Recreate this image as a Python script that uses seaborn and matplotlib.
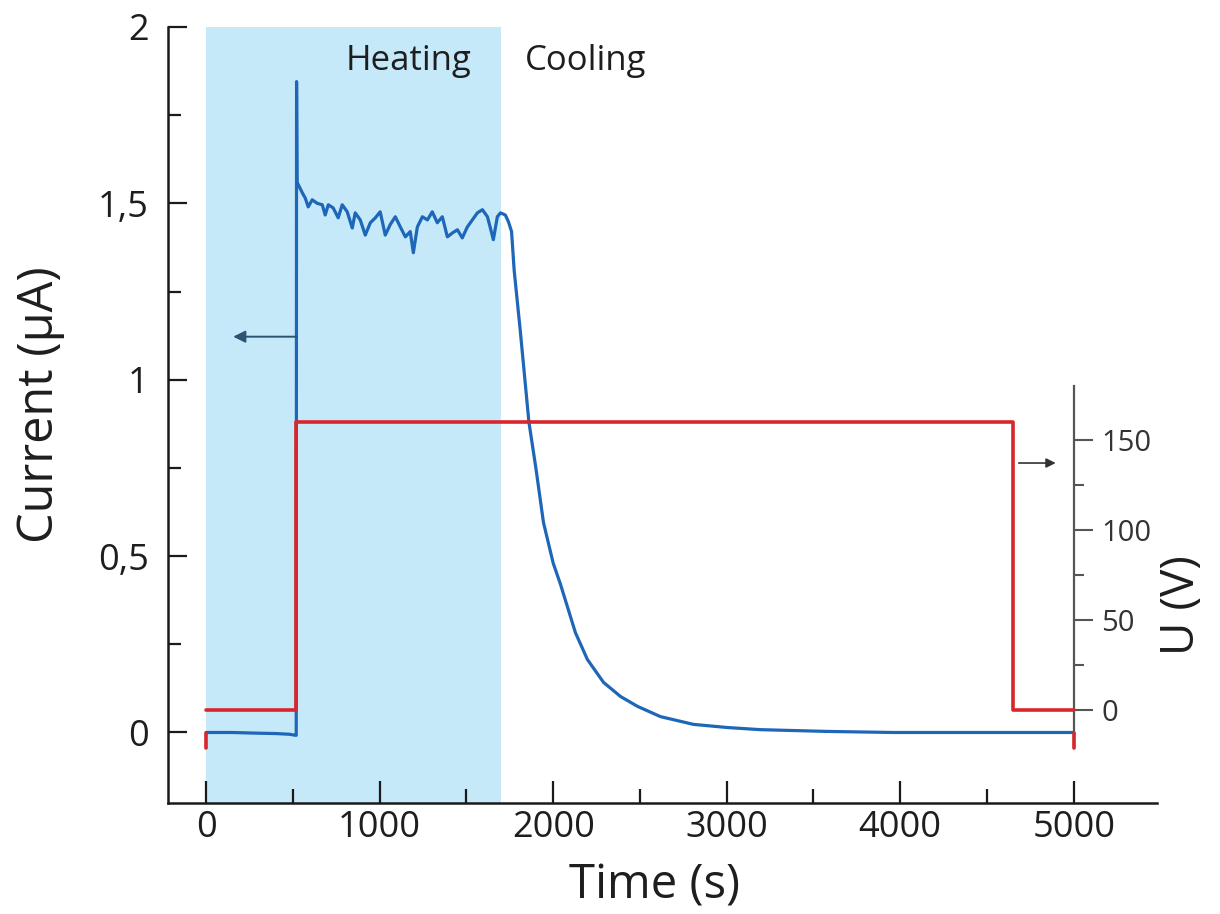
import numpy as np
import pandas as pd
import matplotlib
matplotlib.use("Agg")
import matplotlib.pyplot as plt
from matplotlib.ticker import FixedLocator, FixedFormatter
import seaborn as sns

# ---------------- data ----------------
time_current = [0, 150, 300, 400, 480, 515, 519, 521, 524,
                554, 571, 588, 611, 640, 669, 686, 704, 732, 761,
                784, 813, 842, 859, 888, 917, 946, 975, 1003, 1032,
                1061, 1090, 1119, 1148, 1176, 1194, 1217, 1246, 1275, 1303,
                1332, 1361, 1390, 1419, 1448, 1476, 1505, 1534, 1563, 1592,
                1621, 1638, 1655, 1678, 1696, 1724, 1742, 1760, 1775, 1810,
                1860, 1900, 1944, 2000, 2042, 2128, 2197, 2290, 2388, 2486,
                2618, 2808, 3005, 3195, 3581, 3962, 4348, 5000]
current_uA = [0.0, 0.0, -0.002, -0.003, -0.005, -0.008, -0.008, 1.845, 1.56,
              1.53, 1.515, 1.49, 1.51, 1.50, 1.496, 1.467, 1.496, 1.487, 1.459,
              1.496, 1.476, 1.43, 1.473, 1.453, 1.41, 1.445, 1.459, 1.476, 1.41,
              1.44, 1.462, 1.433, 1.405, 1.42, 1.36, 1.433, 1.462, 1.453, 1.476,
              1.445, 1.462, 1.405, 1.416, 1.425, 1.402, 1.433, 1.453, 1.473, 1.482,
              1.462, 1.43, 1.397, 1.462, 1.473, 1.467, 1.448, 1.42, 1.31, 1.14,
              0.88, 0.75, 0.595, 0.48, 0.42, 0.283, 0.207, 0.142, 0.102, 0.074,
              0.045, 0.023, 0.014, 0.008, 0.003, 0.0, 0.0, 0.0]

time_voltage = [0, 0, 0, 520, 520, 4650, 4650, 5000, 5000, 5000]
voltage_V = [-21, -13, 0, 0, 160, 160, 0, 0, -13, -21]
voltage_segment = [0, 0, 1, 1, 1, 1, 1, 1, 2, 2]

heating_span = [0, 1700]
phase_labels = ["Heating", "Cooling"]
phase_label_times = [1165, 2186]

x_ticks = [0, 1000, 2000, 3000, 4000, 5000]
x_minor = [500, 1500, 2500, 3500, 4500]
y_ticks = [0, 0.5, 1, 1.5, 2]
y_ticklabels = ["0", "0,5", "1", "1,5", "2"]
y_minor = [0.25, 0.75, 1.25, 1.75]
u_ticks = [0, 50, 100, 150]
u_minor = [25, 75, 125]

df_cur = pd.DataFrame({"t": time_current, "I": current_uA})
df_volt = pd.DataFrame({"t": time_voltage, "U": voltage_V, "seg": voltage_segment})

# ---------------- style ----------------
sns.set_style("white")
plt.rcParams["font.family"] = ["Open Sans", "DejaVu Sans"]

BLUE = "#1d66b8"
RED = "#d8262b"
SHADE = "#c6e9fa"
TXT = "#1e1e1e"

fig = plt.figure(figsize=(12.2, 9.14), dpi=100)
ax = fig.add_axes([0.1377, 0.1214, 0.8107, 0.8491])
ax.set_facecolor("none")

ax.axvspan(heating_span[0], heating_span[1], color=SHADE, lw=0, zorder=0)

sns.lineplot(data=df_cur, x="t", y="I", estimator=None, sort=False,
             color=BLUE, lw=2.3, ax=ax, zorder=3)

ax.set_xlim(-220, 5480)
ax.set_ylim(-0.2, 2.0)

ax2 = ax.twinx()
sns.lineplot(data=df_volt, x="t", y="U", units="seg", estimator=None, sort=False,
             color=RED, lw=2.6, ax=ax2, zorder=3)
ax2.set_ylim(-51.7, 379)
ax2.set_xlim(-220, 5480)

# spines
for s in ["top", "right"]:
    ax.spines[s].set_visible(False)
for s in ["top", "left", "bottom"]:
    ax2.spines[s].set_visible(False)
ax.spines["left"].set_color("#1a1a1a")
ax.spines["bottom"].set_color("#1a1a1a")
ax.spines["left"].set_linewidth(1.8)
ax.spines["bottom"].set_linewidth(1.8)
ax2.spines["right"].set_position(("data", 5000))
ax2.spines["right"].set_bounds(-21, 180)
ax2.spines["right"].set_color("#555555")
ax2.spines["right"].set_linewidth(1.6)

# ticks
ax.xaxis.set_major_locator(FixedLocator(x_ticks))
ax.xaxis.set_minor_locator(FixedLocator(x_minor))
ax.yaxis.set_major_locator(FixedLocator(y_ticks))
ax.yaxis.set_major_formatter(FixedFormatter(y_ticklabels))
ax.yaxis.set_minor_locator(FixedLocator(y_minor))
ax.tick_params(axis="x", which="major", direction="in", length=16, width=1.6,
               color="#1a1a1a", labelsize=26, labelcolor=TXT, pad=5, bottom=True)
ax.tick_params(axis="x", which="minor", direction="in", length=10, width=1.6,
               color="#1a1a1a", bottom=True)
ax.tick_params(axis="y", which="major", direction="in", length=14, width=1.6,
               color="#1a1a1a", labelsize=26, labelcolor=TXT, pad=14, left=True)
ax.tick_params(axis="y", which="minor", direction="in", length=9, width=1.6,
               color="#1a1a1a", left=True)

ax2.yaxis.set_major_locator(FixedLocator(u_ticks))
ax2.yaxis.set_minor_locator(FixedLocator(u_minor))
ax2.tick_params(axis="y", which="major", direction="out", length=14, width=1.5,
                color="#555555", labelsize=21, labelcolor="#333333", pad=6, right=True)
ax2.tick_params(axis="y", which="minor", direction="out", length=7, width=1.5,
                color="#555555", right=True)

# labels
ax.set_xlabel("Time (s)", fontsize=34, color=TXT)
ax.xaxis.set_label_coords(0.492, -0.107)
ax.xaxis.label.set_va("center")
ax.set_ylabel("Current (µA)", fontsize=35, color=TXT)
ax.yaxis.set_label_coords(-0.129, 0.513)
ax.yaxis.label.set_va("center")
ax2.set_ylabel("U (V)", fontsize=33, color=TXT, rotation=90)
ax2.yaxis.set_label_coords(1.025, 0.255)
ax2.yaxis.label.set_va("center")
ax2.yaxis.label.set_ha("center")

# phase annotations
for lab, tx in zip(phase_labels, phase_label_times):
    ax.text(tx, 1.878, lab, ha="center", va="baseline", fontsize=25, color=TXT)

# axis-assignment arrows
ax.annotate("", xy=(156, 1.122), xytext=(519, 1.122),
            arrowprops=dict(arrowstyle="-|>", color="#2a5470", lw=1.4,
                            mutation_scale=18, shrinkA=0, shrinkB=0))
ax2.annotate("", xy=(4896, 137), xytext=(4683, 137),
             arrowprops=dict(arrowstyle="-|>", color="#333333", lw=1.2,
                             mutation_scale=14, shrinkA=0, shrinkB=0))

fig.savefig("out.png", dpi=100, facecolor="white")
